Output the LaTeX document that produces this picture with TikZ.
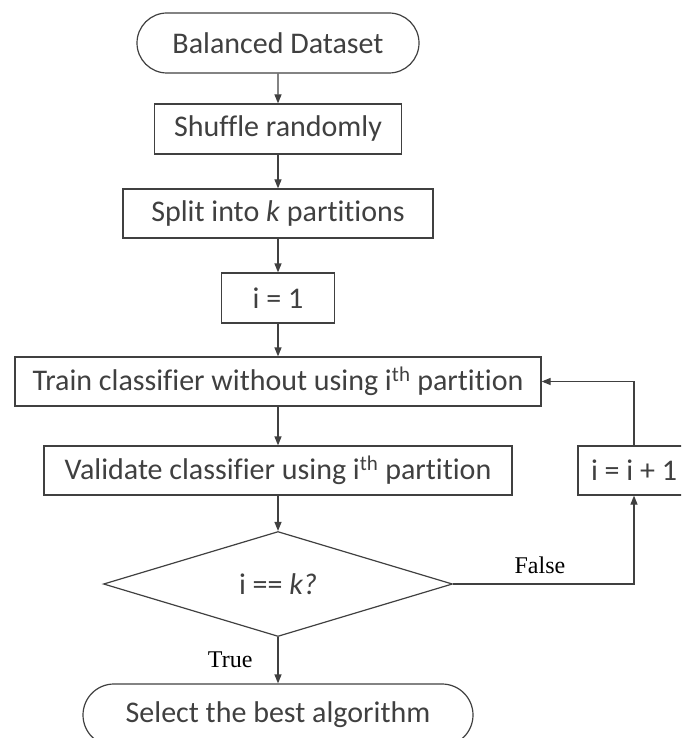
\documentclass[tikz,border=0pt]{standalone}
\usepackage{fontspec}
\setmainfont{Carlito}[Ligatures=NoCommon]
\newfontfamily\labelfont{Liberation Serif}
\usetikzlibrary{arrows.meta,shapes.geometric,shapes.misc}

\begin{document}
\begin{tikzpicture}[x=1pt, y=-1pt, line width=1.2pt, color=black!75,
  every node/.style={font=\fontsize{30}{36}\selectfont},
  box/.style={draw, rectangle, inner sep=0pt, minimum height=49pt},
  term/.style={draw, rounded rectangle, inner sep=0pt, minimum height=60pt},
  arr/.style={-{Triangle[length=9pt,width=7pt]}},
  lbl/.style={font=\labelfont\fontsize{24}{28}\selectfont, text=black, inner sep=0pt}]

\clip (0,0) rectangle (681,738);

\coordinate (B) at (278, 43);
\coordinate (S) at (278, 129);
\coordinate (K) at (278, 213.5);
\coordinate (I) at (278, 298);
\coordinate (T) at (278, 381.5);
\coordinate (V) at (278, 470.5);
\coordinate (D) at (278, 584);
\coordinate (N) at (634, 470.5);
\coordinate (E) at (278, 715);

\node[term, minimum width=282pt] (bal) at (B) {Balanced Dataset};
\node[box, minimum width=247pt, minimum height=50pt] (shuf) at (S) {Shuffle randomly};
\node[box, minimum width=310pt] (split) at (K) {Split into \textit{k} partitions};
\node[box, minimum width=113pt, minimum height=50pt] (ione) at (I) {i = 1};
\node[box, minimum width=526pt] (train) at (T) {Train classifier without using i\textsuperscript{th} partition};
\node[box, minimum width=468pt] (valid) at (V) {Validate classifier using i\textsuperscript{th} partition};
\node[draw, diamond, aspect=3.3, inner sep=0pt, minimum width=349pt, minimum height=105pt] (dec) at (D) {i == \textit{k?}};
\node[box, minimum width=112pt] (inc) at (N) {i = i + 1};
\node[term, minimum width=390pt, minimum height=62pt] (sel) at (E) {Select the best algorithm};

\draw[arr] (bal) -- (shuf);
\draw[arr] (shuf) -- (split);
\draw[arr] (split) -- (ione);
\draw[arr] (ione) -- (train);
\draw[arr] (train) -- (valid);
\draw[arr] (valid) -- (dec);
\draw[arr] (dec.south) -- node[lbl, left=25pt] (tlbl) {True} (sel.north);
\draw[arr] (dec.east) -| node[lbl, above=10pt, pos=0.24] (flbl) {False} (inc.south);
\draw[arr] (inc.north) |- (train.east);

\end{tikzpicture}
\end{document}
